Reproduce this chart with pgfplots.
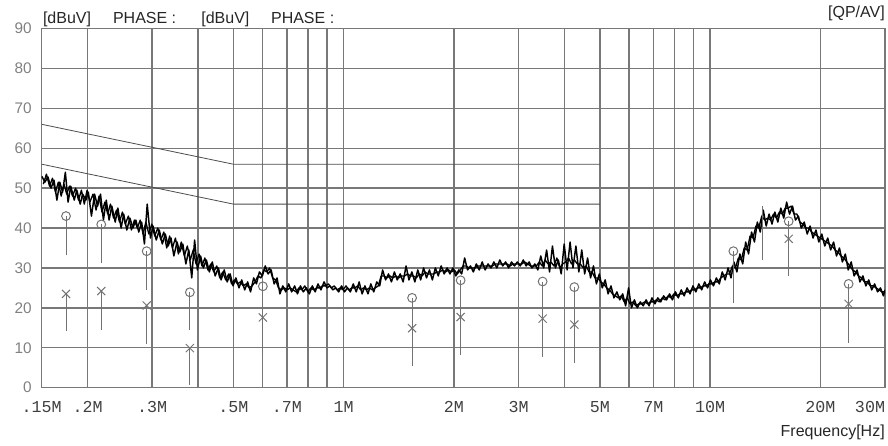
\documentclass[border=0pt]{standalone}
\usepackage{pgfplots}
\pgfplotsset{compat=1.18}
\usepackage{fontspec}
\setmainfont{Liberation Sans}
\newfontfamily\monofont{Liberation Mono}
\definecolor{gridc}{gray}{0.47}
\definecolor{markc}{gray}{0.45}
\begin{document}
\begin{tikzpicture}
\path[use as bounding box] (-31.3pt,-43.7pt) rectangle (634.5pt,290.65pt);
\begin{axis}[
 name=main,
 at={(0,0)}, anchor=south west,
 scale only axis,
 width=632.25pt, height=269.25pt,
 xmode=log,
 xmin=0.15, xmax=30, ymin=0, ymax=90,
 xtick={0.15,0.2,0.3,0.5,0.7,1,2,3,5,7,10,20,30},
 xticklabels={.15M,.2M,.3M,.5M,.7M,1M,2M,3M,5M,7M,10M,20M,\makebox[0pt][r]{30M}},
 minor xtick={0.4,0.6,0.8,0.9,4,6,8,9},
 ytick={0,10,...,90},
 grid=both,
 major grid style={gridc, line width=1.05pt},
 minor grid style={gridc, line width=1.05pt},
 axis line style={gridc, line width=1.05pt},
 major tick length=0pt, minor tick length=0pt,
 xticklabel style={font=\monofont\fontsize{12.5}{14}\selectfont, text=black!75, yshift=-7pt},
 yticklabel style={font=\fontsize{11.5}{13}\selectfont, text=black!50, xshift=-4pt},
 /pgf/number format/assume math mode=true,
 clip=true,
]
% limit lines
\addplot[black!70, line width=0.6pt] coordinates {(0.15,66) (0.5,56) (5,56)};
\addplot[black!70, line width=0.6pt] coordinates {(0.15,56) (0.5,46) (5,46)};
% measured trace, sweep points (a)
\addplot[black, line width=1.1pt, line join=round] table {
f y
0.150 53.0
0.153 51.5
0.156 52.8
0.159 50.0
0.162 52.0
0.165 47.0
0.168 51.5
0.171 49.0
0.174 54.0
0.177 46.5
0.180 50.5
0.184 47.0
0.187 49.5
0.191 46.0
0.194 48.5
0.198 47.0
0.201 49.0
0.205 43.0
0.209 48.5
0.213 45.5
0.217 48.5
0.221 42.0
0.225 47.0
0.229 42.0
0.233 45.5
0.238 41.5
0.242 45.0
0.247 40.0
0.251 43.5
0.256 39.5
0.261 42.5
0.266 40.0
0.271 42.0
0.276 39.0
0.281 41.5
0.286 36.0
0.291 46.0
0.297 37.5
0.302 40.5
0.308 37.0
0.314 39.5
0.320 36.0
0.326 38.5
0.332 35.5
0.338 37.5
0.344 33.0
0.351 36.5
0.357 34.0
0.364 36.0
0.371 31.0
0.378 34.5
0.385 27.5
0.392 37.0
0.399 29.5
0.407 33.0
0.414 30.0
0.422 32.0
0.430 29.0
0.438 31.5
0.446 28.0
0.455 30.0
0.463 27.0
0.472 29.5
0.481 26.5
0.490 28.5
0.499 25.5
0.508 27.5
0.518 25.0
0.527 27.0
0.537 24.5
0.547 26.5
0.557 24.0
0.568 27.5
0.578 26.0
0.589 29.0
0.600 28.0
0.611 30.5
0.622 28.5
0.634 29.5
0.646 26.0
0.658 27.5
0.670 23.5
0.682 25.5
0.695 24.0
0.708 26.0
0.721 24.0
0.735 25.5
0.748 23.5
0.762 25.5
0.776 24.0
0.791 25.0
0.806 23.5
0.821 25.5
0.836 24.0
0.851 26.0
0.867 24.5
0.884 26.5
0.900 25.0
0.917 25.5
0.934 24.5
0.951 25.0
0.969 24.0
0.987 25.5
1.005 24.0
1.024 25.0
1.043 24.0
1.062 26.0
1.082 24.0
1.102 26.5
1.123 23.5
1.143 25.5
1.165 23.5
1.186 26.0
1.208 24.0
1.231 26.5
1.254 25.5
1.277 29.5
1.301 27.0
1.325 28.5
1.350 26.5
1.375 29.0
1.400 27.0
1.426 28.5
1.453 26.5
1.480 30.5
1.507 27.0
1.535 29.0
1.564 26.5
1.593 29.5
1.622 27.0
1.652 30.0
1.683 27.5
1.714 29.5
1.746 27.0
1.779 30.0
1.812 28.0
1.845 30.5
1.880 28.5
1.915 30.0
1.950 28.5
1.986 30.0
2.023 28.0
2.061 29.5
2.099 28.5
2.138 32.5
2.178 29.5
2.218 30.5
2.259 29.0
2.301 31.0
2.344 29.5
2.388 31.5
2.432 29.5
2.477 31.0
2.523 30.0
2.570 31.5
2.618 30.0
2.667 32.0
2.716 30.5
2.767 31.5
2.818 30.0
2.870 31.5
2.924 30.5
2.978 31.5
3.033 30.5
3.090 32.0
3.147 30.5
3.205 31.5
3.265 30.0
3.325 31.0
3.387 29.5
3.450 33.0
3.514 30.0
3.579 34.5
3.646 29.0
3.713 35.5
3.782 30.0
3.853 32.0
3.924 28.5
3.997 36.0
4.071 29.5
4.147 36.5
4.224 30.0
4.302 35.5
4.382 29.0
4.463 34.5
4.546 28.5
4.630 32.5
4.716 27.5
4.804 30.5
4.893 26.0
4.984 28.5
5.076 25.0
5.170 27.0
5.266 23.5
5.364 25.5
5.463 22.5
5.565 24.0
5.668 22.0
5.773 23.5
5.880 20.5
5.989 25.0
6.100 20.0
6.213 22.0
6.329 20.0
6.446 21.5
6.566 20.5
6.688 22.0
6.812 20.5
6.938 22.5
7.067 21.0
7.198 22.5
7.332 21.5
7.468 23.0
7.606 22.0
7.748 23.5
7.891 22.0
8.038 24.0
8.187 22.5
8.339 24.5
8.494 23.0
8.651 25.0
8.812 23.5
8.975 25.5
9.142 24.0
9.311 26.0
9.484 24.5
9.660 26.5
9.839 25.0
10.02 27.0
10.21 25.5
10.40 27.5
10.59 26.0
10.79 29.0
10.99 27.0
11.19 30.0
11.40 27.5
11.61 31.5
11.83 29.0
12.05 33.5
12.27 31.0
12.50 36.5
12.73 33.5
12.97 39.0
13.21 36.5
13.45 41.5
13.70 39.0
13.96 44.5
14.22 40.5
14.48 43.5
14.75 41.0
15.02 44.0
15.30 41.5
15.59 45.0
15.88 42.5
16.17 46.5
16.47 43.5
16.78 45.5
17.09 42.0
17.41 43.0
17.73 40.0
18.06 41.5
18.40 38.5
18.74 40.5
19.09 37.5
19.44 39.5
19.80 36.5
20.17 38.5
20.55 35.5
20.93 37.5
21.32 34.5
21.72 36.5
22.12 33.0
22.53 35.0
22.95 31.5
23.38 33.5
23.81 29.5
24.26 31.5
24.71 28.0
25.17 29.5
25.63 26.5
26.11 28.0
26.60 25.5
27.09 27.0
27.59 24.5
28.11 26.0
28.63 24.0
29.16 25.0
29.70 23.0
30.00 24.5
};
% measured trace, interleaved sweep points (b)
\addplot[black, line width=1.0pt, line join=round] table {
f y
0.1515 51.0
0.1545 53.5
0.1575 50.5
0.1605 52.5
0.1635 49.0
0.1665 51.5
0.1695 48.0
0.1725 51.0
0.1755 48.5
0.1785 50.5
0.182 48.0
0.1855 50.0
0.189 47.0
0.1925 49.5
0.196 46.0
0.1995 49.5
0.203 46.5
0.207 48.5
0.211 44.5
0.215 48.0
0.219 44.0
0.223 46.5
0.227 43.5
0.231 46.0
0.2355 42.5
0.240 44.5
0.2445 41.5
0.249 44.0
0.2535 41.0
0.2585 43.0
0.2635 39.5
0.2685 42.0
0.2735 40.0
0.2785 42.0
0.2835 38.5
0.2885 41.5
0.294 38.5
0.2995 41.0
0.305 38.0
0.311 40.0
0.317 37.0
0.323 39.0
0.329 35.0
0.335 38.0
0.341 35.0
0.3475 37.5
0.354 33.5
0.3605 36.5
0.3675 33.0
0.3745 35.5
0.3815 32.0
0.3885 34.5
0.3955 31.0
0.403 33.5
0.4105 30.5
0.418 32.5
0.426 29.5
0.434 31.0
0.442 29.0
0.4505 30.5
0.459 27.5
0.4675 29.0
0.4765 27.0
0.4855 28.5
0.4945 26.0
0.5035 27.0
0.513 26.0
0.5225 26.5
0.532 25.5
0.542 26.0
0.552 25.0
0.5625 25.5
0.573 26.5
0.5835 28.0
0.5945 27.5
0.6055 29.5
0.6165 29.0
0.628 30.0
0.640 27.5
0.652 27.0
0.664 25.0
0.676 24.5
0.6885 25.0
0.7015 24.5
0.7145 25.0
0.728 24.5
0.7415 24.0
0.755 25.0
0.769 24.5
0.7835 25.5
0.7985 24.0
0.8135 25.0
0.8285 24.5
0.8435 25.0
0.859 25.0
0.8755 25.5
0.892 25.5
0.9085 26.0
0.9255 25.0
0.9425 25.5
0.960 24.5
0.978 25.0
0.996 24.5
1.0145 25.5
1.0335 24.5
1.0525 25.0
1.072 25.0
1.092 25.5
1.1125 24.5
1.133 25.0
1.154 24.5
1.1755 25.0
1.197 24.5
1.2195 25.0
1.2425 25.5
1.2655 28.0
1.289 28.0
1.3125 27.5
1.3375 28.0
1.3625 27.5
1.3875 28.0
1.413 27.5
1.4395 28.0
1.4665 28.0
1.4935 28.5
1.521 28.0
1.5495 28.0
1.5785 27.5
1.6075 28.5
1.637 28.0
1.6675 29.0
1.6985 28.5
1.730 28.5
1.7625 28.5
1.7955 29.0
1.8285 29.0
1.8625 29.5
1.8975 29.0
1.9325 29.5
1.968 29.0
2.0045 29.5
2.042 28.5
2.080 29.5
2.1185 30.5
2.158 30.5
2.198 30.0
2.2385 30.0
2.280 30.0
2.3225 30.5
2.366 30.5
2.410 30.5
2.4545 30.5
2.500 30.5
2.5465 30.5
2.594 31.0
2.6425 31.0
2.6915 31.0
2.7415 31.0
2.7925 31.0
2.844 30.5
2.897 31.0
2.951 31.0
3.0055 31.0
3.0615 31.0
3.1185 31.5
3.176 31.0
3.235 30.5
3.295 30.5
3.356 30.5
3.4185 31.5
3.482 30.5
3.5465 32.0
3.6125 31.0
3.6795 31.5
3.7475 30.5
3.8175 32.5
3.8885 30.0
3.9605 31.0
4.034 31.5
4.109 32.5
4.1855 31.0
4.263 32.0
4.342 31.0
4.4225 31.0
4.5045 30.0
4.588 30.5
4.673 29.0
4.760 29.0
4.8485 27.5
4.9385 27.5
5.030 26.5
5.123 26.0
5.218 25.0
5.315 24.5
5.4135 23.5
5.514 23.0
5.6165 22.5
5.7205 23.0
5.8265 21.5
5.9345 22.5
6.0445 21.0
6.1565 21.5
6.271 20.5
6.3875 21.0
6.506 21.0
6.627 21.5
6.750 21.0
6.875 21.5
7.0025 21.5
7.1325 22.0
7.265 21.5
7.400 22.5
7.537 22.0
7.677 23.0
7.8195 22.5
7.9645 23.5
8.1125 23.0
8.263 23.5
8.4165 23.5
8.5725 24.0
8.7315 24.0
8.8935 24.5
9.0585 24.5
9.2265 25.0
9.3975 25.0
9.572 25.5
9.7495 25.5
9.9295 26.0
10.115 26.0
10.305 26.5
10.495 26.5
10.69 27.5
10.89 28.0
11.09 28.5
11.295 28.5
11.505 30.5
11.72 30.0
11.94 32.5
12.16 32.0
12.385 35.0
12.615 34.5
12.85 38.0
13.09 37.5
13.33 40.5
13.575 40.0
13.83 43.0
14.09 42.0
14.35 42.5
14.615 42.0
14.885 43.5
15.16 42.5
15.445 44.0
15.735 43.5
16.025 45.0
16.32 45.0
16.625 45.5
16.935 43.5
17.25 43.5
17.57 41.5
17.895 41.0
18.23 40.0
18.57 40.0
18.915 39.0
19.265 38.5
19.62 38.0
19.985 37.5
20.36 37.0
20.74 36.5
21.125 36.0
21.52 35.5
21.92 34.5
22.325 34.0
22.74 33.0
23.165 32.5
23.595 31.5
24.035 30.5
24.485 29.5
24.94 29.0
25.4 28.0
25.87 27.5
26.355 26.5
26.845 26.5
27.34 25.5
27.85 25.5
28.37 25.0
28.895 24.5
29.43 24.0
29.85 24.0
};
% stray stem near 13.9 MHz
\addplot[markc, line width=0.7pt] coordinates {(13.86,32) (13.86,45.5)};
% QP markers with stems
\addplot[only marks, mark=o, mark size=3.3pt, markc, mark options={line width=0.75pt},
  error bars/.cd, y dir=minus, y explicit, error mark=none,
  error bar style={markc, line width=0.75pt}] coordinates {
 (0.1747,43.0) -= (0,9.7)
 (0.218,40.9) -= (0,9.6)
 (0.290,34.2) -= (0,9.7)
 (0.3805,23.9) -= (0,9.4)
 (0.6018,25.4) -= (0,9.5)
 (1.537,22.5) -= (0,9.5)
 (2.085,26.9) -= (0,9.5)
 (3.49,26.6) -= (0,9.5)
 (4.26,25.2) -= (0,9.5)
 (11.57,34.2) -= (0,13.0)
 (16.38,41.7) -= (0,9.5)
 (23.87,26.0) -= (0,9.5)
};
% AV markers with stems
\addplot[only marks, mark=x, mark size=4.3pt, markc, mark options={line width=0.75pt},
  error bars/.cd, y dir=minus, y explicit, error mark=none,
  error bar style={markc, line width=0.75pt}] coordinates {
 (0.1747,23.5) -= (0,9.4)
 (0.218,24.2) -= (0,9.7)
 (0.290,20.6) -= (0,9.6)
 (0.3805,9.9) -= (0,9.2)
 (0.6018,17.6) -= (0,9.4)
 (1.537,14.9) -= (0,9.4)
 (2.085,17.7) -= (0,9.5)
 (3.49,17.3) -= (0,9.5)
 (4.26,15.8) -= (0,9.5)
 (16.38,37.3) -= (0,9.4)
 (23.87,21.0) -= (0,9.7)
};
\end{axis}
\begin{scope}[every node/.style={font=\fontsize{12}{14}\selectfont, text=black!85, inner sep=0pt}]
\node[anchor=base west] at ([xshift=0.75pt,yshift=4pt]main.north west) {[dBuV]};
\node[anchor=base west] at ([xshift=53.25pt,yshift=4pt]main.north west) {PHASE :};
\node[anchor=base west] at ([xshift=119.5pt,yshift=4pt]main.north west) {[dBuV]};
\node[anchor=base west] at ([xshift=171.75pt,yshift=4pt]main.north west) {PHASE :};
\node[anchor=base east] at ([xshift=0pt,yshift=8pt]main.north east) {[QP/AV]};
\node[anchor=base east] at ([xshift=0pt,yshift=-37pt]main.south east) {Frequency[Hz]};
\end{scope}
\end{tikzpicture}
\end{document}
